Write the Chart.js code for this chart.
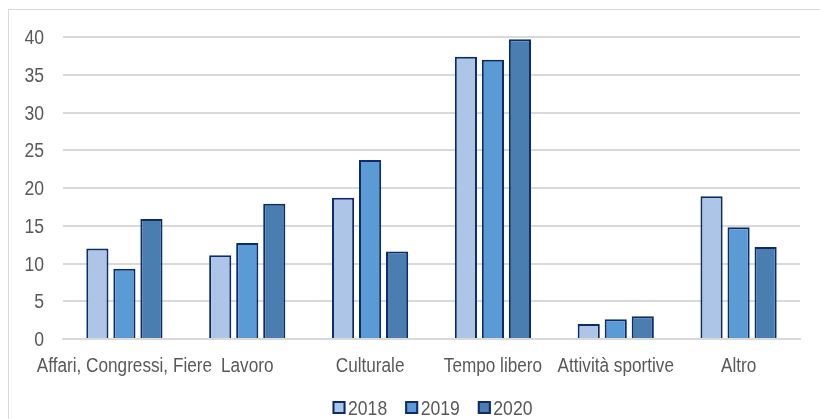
<!DOCTYPE html>
<html>
<head>
<meta charset="utf-8">
<script src="https://cdn.jsdelivr.net/npm/chart.js@4/dist/chart.umd.min.js"></script>
<style>
  html, body { margin: 0; padding: 0; background: #ffffff; }
  #wrap { position: relative; width: 820px; height: 419px; overflow: hidden; }
  #frame { position: absolute; left: 8px; top: 9px; width: 900px; height: 500px; border: 1px solid #d9d9d9; box-sizing: border-box; }
  #c { position: absolute; left: 0; top: 0; }
</style>
</head>
<body>
<div id="wrap">
  <div id="frame"></div>
  <canvas id="c" width="820" height="419"></canvas>
</div>
<script>
// Motivo del viaggio, quota percentuale per anno
const categories = ['Affari, Congressi, Fiere', 'Lavoro', 'Culturale', 'Tempo libero', 'Attività sportive', 'Altro'];
const years = ['2018', '2019', '2020'];
const values2018 = [12.0, 11.1, 18.7, 37.4, 2.0, 18.9];
const values2019 = [9.3, 12.7, 23.7, 37.0, 2.6, 14.8];
const values2020 = [15.9, 17.9, 11.6, 39.7, 3.0, 12.2];
const yTicks = [0, 5, 10, 15, 20, 25, 30, 35, 40];

const fills = ['#adc6e7', '#5b9bd5', '#4a7eb1'];
const edge = '#0d2b69';
const textColor = '#595959';
const fontFamily = "'Liberation Sans', Arial, sans-serif";
const narrow = 0.88;   // horizontal squeeze giving a narrow-style face

const series = [values2018, values2019, values2020];

// Writes text compressed horizontally around its anchor point
function narrowText(ctx, text, x, y, align, size) {
  ctx.save();
  ctx.font = size + 'px ' + fontFamily;
  ctx.fillStyle = textColor;
  ctx.textAlign = align;
  ctx.textBaseline = 'alphabetic';
  ctx.translate(x, y);
  ctx.scale(narrow, 1);
  ctx.fillText(text, 0, 0);
  ctx.restore();
}

// Axis labels and legend in the narrow face
const narrowLabels = {
  id: 'narrowLabels',
  afterDraw(chart) {
    const ctx = chart.ctx;
    const xs = chart.scales.x, ys = chart.scales.y, area = chart.chartArea;

    // value axis labels
    yTicks.forEach(v => {
      narrowText(ctx, String(v), area.left - 19, ys.getPixelForValue(v) + 7.2, 'right', 20);
    });

    // category labels
    categories.forEach((c, i) => {
      narrowText(ctx, c, xs.getPixelForValue(i), area.bottom + 33, 'center', 19.5);
    });

    // legend
    const ds = chart.data.datasets;
    const size = 20, box = 13, gapText = 2.5, gapItem = 18;
    ctx.save();
    ctx.font = size + 'px ' + fontFamily;
    const widths = ds.map(d => ctx.measureText(d.label).width * narrow);
    ctx.restore();
    const total = widths.reduce((a, w) => a + box + gapText + w, 0) + gapItem * (ds.length - 1);
    const cx = (area.left + area.right) / 2 + 1;
    const cy = area.bottom + 68.5;
    let x = cx - total / 2;
    ds.forEach((d, i) => {
      ctx.save();
      ctx.fillStyle = d.backgroundColor;
      ctx.fillRect(x, cy - box / 2, box, box);
      ctx.strokeStyle = edge;
      ctx.lineWidth = 2;
      ctx.strokeRect(x + 1, cy - box / 2 + 1, box - 2, box - 2);
      ctx.restore();
      narrowText(ctx, d.label, x + box + gapText, cy + 7.2, 'left', size);
      x += box + gapText + widths[i] + gapItem;
    });
  }
};

new Chart(document.getElementById('c'), {
  type: 'bar',
  data: {
    labels: categories,
    datasets: years.map((y, i) => ({
      label: y,
      data: series[i],
      backgroundColor: fills[i],
      borderColor: edge,
      borderWidth: 2,
      categoryPercentage: 0.66,
      barPercentage: 0.82
    }))
  },
  plugins: [narrowLabels],
  options: {
    responsive: false,
    animation: false,
    devicePixelRatio: 1,
    layout: { padding: { left: 0, right: 20, top: 37, bottom: 40 } },
    plugins: {
      tooltip: { enabled: false },
      legend: { display: false }
    },
    scales: {
      x: {
        grid: { display: false, drawTicks: false },
        border: { display: true, color: '#d9d9d9', width: 2 },
        ticks: { display: false },
        afterFit: (s) => { s.height = 40; }
      },
      y: {
        min: 0,
        max: 40,
        afterBuildTicks: (s) => { s.ticks = yTicks.map(v => ({ value: v })); },
        grid: { color: '#d9d9d9', lineWidth: 2, drawTicks: false },
        border: { display: false },
        ticks: { display: false },
        afterFit: (s) => { s.width = 63; }
      }
    }
  }
});
</script>
</body>
</html>
